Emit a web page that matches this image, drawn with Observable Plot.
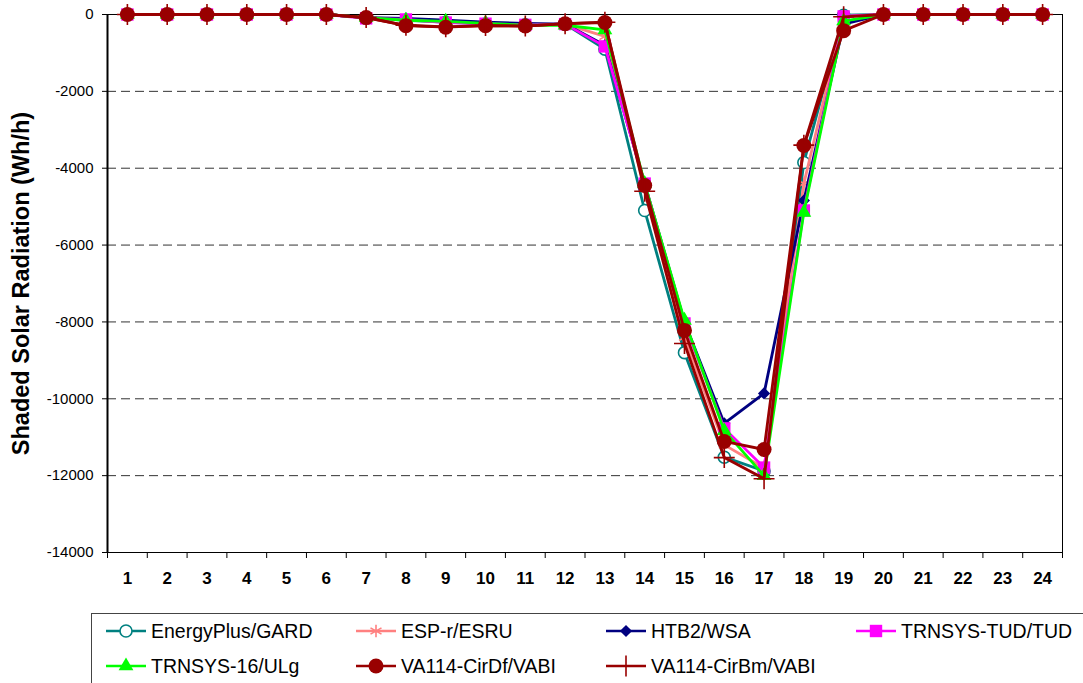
<!DOCTYPE html>
<html>
<head>
<meta charset="utf-8">
<script src="https://cdn.jsdelivr.net/npm/d3@7"></script>
<script src="https://cdn.jsdelivr.net/npm/@observablehq/plot@0.6"></script>
<style>
  html, body { margin: 0; padding: 0; background: #fff; }
  #wrap { position: relative; width: 1083px; height: 683px; overflow: hidden; font-family: "Liberation Sans", Arial, sans-serif; }
  #legend { position: absolute; left: 91px; top: 613px; width: 1010px; height: 90px; border: 1px solid #444; box-sizing: border-box; }
  .item { position: absolute; height: 24px; display: flex; align-items: center; font-size: 19.5px; color: #000; white-space: nowrap; }
  .item svg { margin-right: 5px; }
</style>
</head>
<body>
<div id="wrap"></div>
<script>
// ---- Data ----
const hours = [1,2,3,4,5,6,7,8,9,10,11,12,13,14,15,16,17,18,19,20,21,22,23,24];
const yTicks = [0,-2000,-4000,-6000,-8000,-10000,-12000,-14000];
const gridValues = [-2000,-4000,-6000,-8000,-10000,-12000];

const seriesNames = ["EnergyPlus/GARD","ESP-r/ESRU","HTB2/WSA","TRNSYS-TUD/TUD","TRNSYS-16/ULg","VA114-CirDf/VABI","VA114-CirBm/VABI"];

const energyPlus = [0,0,0,0,0,0,-80,-150,-200,-250,-270,-250,-900,-5100,-8800,-11520,-11880,-3850,-20,0,0,0,0,0];
const espr       = [0,0,0,0,0,0,-80,-130,-200,-240,-260,-250,-570,-4500,-8400,-11200,-11800,-4400,-50,0,0,0,0,0];
const htb2       = [0,0,0,0,0,0,-80,-100,-150,-200,-230,-250,-800,-4400,-8000,-10640,-9860,-4840,-250,0,0,0,0,0];
const trnsysTud  = [0,0,0,0,0,0,-100,-130,-210,-240,-270,-250,-830,-4400,-8040,-10770,-11790,-5100,-50,0,0,0,0,0];
const trnsys16   = [0,0,0,0,0,0,-80,-150,-180,-230,-280,-280,-400,-4400,-7960,-10830,-12000,-5150,-170,0,0,0,0,0];
const cirDf      = [0,0,0,0,0,0,-80,-290,-330,-290,-300,-240,-210,-4450,-8220,-11110,-11320,-3410,-420,0,0,0,0,0];
const cirBm      = [0,0,0,0,0,0,-80,-280,-320,-290,-300,-240,-200,-4600,-8560,-11530,-12080,-3400,-60,0,0,0,0,0];

const seriesValues = [energyPlus, espr, htb2, trnsysTud, trnsys16, cirDf, cirBm];

const yTitle = "Shaded Solar Radiation (Wh/h)";

// ---- Styles ----
const colors  = ["#008080","#FF8080","#000080","#FF00FF","#00FF00","#990000","#990000"];
const symbols = ["circle","asterisk","diamond2","square","triangle","circle","plus"];
const filled  = [false,false,true,true,true,true,false];
const radii   = [6,6,5.5,7,5.5,7.5,6.8];
const markFill = ["white","none",null,null,null,null,"none"];

// ---- Build table ----
const rows = [];
seriesNames.forEach((name, i) => {
  hours.forEach((h, j) => rows.push({series: name, idx: i, hour: h, value: seriesValues[i][j]}));
});

const font = "'Liberation Sans', Arial, sans-serif";
const marks = [];
marks.push(Plot.ruleY(gridValues, {stroke: "#333", strokeDasharray: "9,5", strokeWidth: 1}));
marks.push(Plot.frame({stroke: "#000", strokeWidth: 1}));
marks.push(Plot.ruleX([0.5], {stroke: "#000", strokeWidth: 2}));

seriesNames.forEach((name, i) => {
  const data = rows.filter(r => r.idx === i);
  marks.push(Plot.line(data, {x: "hour", y: "value", stroke: colors[i], strokeWidth: 2.8}));
  const opts = {x: "hour", y: "value", symbol: symbols[i], r: radii[i]};
  if (filled[i]) { opts.fill = colors[i]; opts.stroke = "none"; }
  else { opts.stroke = colors[i]; opts.strokeWidth = 1.6; opts.fill = markFill[i]; }
  marks.push(Plot.dot(data, opts));
});

// x tick marks at category edges (below frame)
const edges = hours.map(h => h - 0.5).concat([hours[hours.length - 1] + 0.5]);
marks.push(Plot.axisX({ticks: edges, tickSize: 6, tickFormat: () => "", label: null}));
// x tick labels
marks.push(Plot.text(hours, {x: d => d, frameAnchor: "bottom", dy: 31, fontSize: 17, fontWeight: "bold", text: d => String(d)}));
// y axis
marks.push(Plot.axisY({ticks: yTicks, tickSize: 5, tickPadding: 9, tickFormat: d => String(d), label: null, fontSize: 15}));
// y title
marks.push(Plot.text([yTitle], {frameAnchor: "left", textAnchor: "middle", dx: -86, rotate: -90, fontSize: 23.5, fontWeight: "bold", text: d => d}));

const chart = Plot.plot({
  width: 1083,
  height: 600,
  marginLeft: 107,
  marginRight: 21,
  marginTop: 14,
  marginBottom: 48,
  style: {fontFamily: font, fontSize: "15px", color: "#000", background: "#fff", overflow: "visible"},
  x: {type: "linear", domain: [0.5, 24.5], axis: null},
  y: {domain: [-14000, 0], axis: null},
  marks
});

const wrap = document.getElementById("wrap");
wrap.appendChild(chart);

// ---- Legend ----
const legend = document.createElement("div");
legend.id = "legend";
wrap.appendChild(legend);
const colX = [106, 356, 606, 856];
const rowY = [631, 666];
const symMap = {circle: d3.symbolCircle, asterisk: d3.symbolAsterisk, diamond2: d3.symbolDiamond2, square: d3.symbolSquare, triangle: d3.symbolTriangle, plus: d3.symbolPlus};
seriesNames.forEach((name, i) => {
  const col = i < 4 ? i : i - 4;
  const row = i < 4 ? 0 : 1;
  const item = document.createElement("div");
  item.className = "item";
  item.style.left = (colX[col] - 92) + "px";
  item.style.top = (rowY[row] - 614 - 12) + "px";
  const svg = d3.create("svg").attr("width", 40).attr("height", 24);
  svg.append("line").attr("x1", 0).attr("x2", 40).attr("y1", 12).attr("y2", 12)
    .attr("stroke", colors[i]).attr("stroke-width", 2.6);
  const size = Math.PI * radii[i] * radii[i];
  const p = svg.append("path").attr("transform", "translate(20,12)")
    .attr("d", d3.symbol(symMap[symbols[i]], size)());
  if (filled[i]) p.attr("fill", colors[i]);
  else p.attr("fill", markFill[i]).attr("stroke", colors[i]).attr("stroke-width", 1.6);
  item.appendChild(svg.node());
  const span = document.createElement("span");
  span.textContent = name;
  item.appendChild(span);
  legend.appendChild(item);
});
</script>
</body>
</html>
